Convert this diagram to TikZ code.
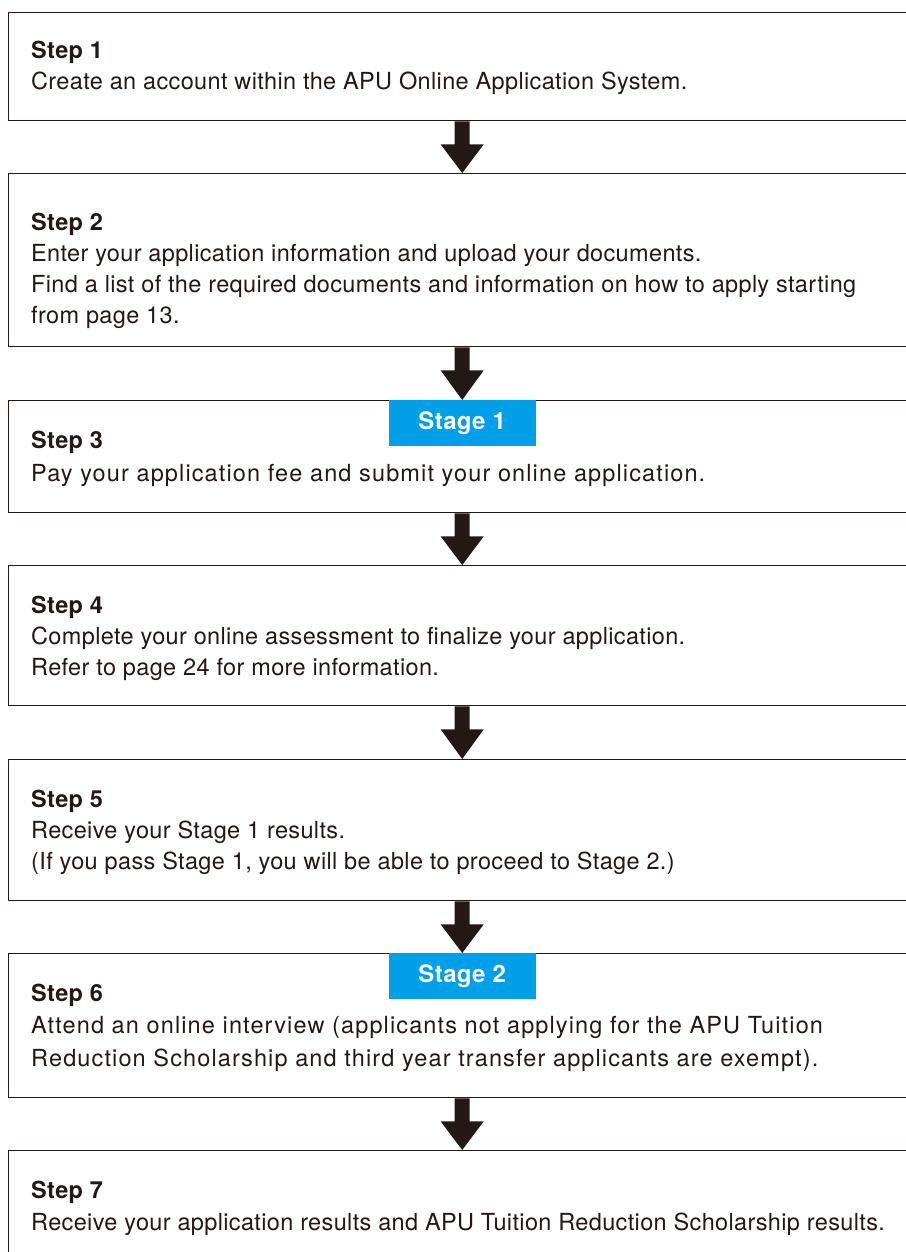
\documentclass[tikz,border=0pt]{standalone}
\usepackage{fontspec}
\setmainfont{TeX Gyre Heros}[LetterSpace=1.5]
\newfontfamily\widefont{TeX Gyre Heros}[LetterSpace=4.8]
\usetikzlibrary{calc}
\definecolor{ink}{HTML}{231815}
\definecolor{stageblue}{HTML}{00A0E9}
\tikzset{
  stepbox/.style={draw=ink, line width=1.4pt, rectangle, minimum width=907pt, anchor=north west, inner sep=0pt},
  steptext/.style={anchor=base west, inner sep=0pt, text=ink, font=\fontsize{23.5pt}{31pt}\selectfont},
  stagelabel/.style={fill=stageblue, text=white, anchor=north, minimum width=147pt, minimum height=46pt, inner sep=0pt, font=\fontsize{24pt}{26pt}\selectfont\bfseries},
  arrowfill/.style={fill=ink}
}
\newcommand{\flowarrow}[2]{%
  \fill[arrowfill] ($(#1.south)+(-7.5pt,0)$) -- ($(#1.south)+(7.5pt,0)$) -- ($(#1.south)+(7.5pt,-23pt)$) -- ($(#1.south)+(21.5pt,-23pt)$) -- (#2.north) -- ($(#1.south)+(-21.5pt,-23pt)$) -- ($(#1.south)+(-7.5pt,-23pt)$) -- cycle;}
\begin{document}
\begin{tikzpicture}[x=1pt,y=1pt]
\useasboundingbox (0,0) rectangle (905,-1252);
% boxes
\node[stepbox, minimum height=108pt] (b1) at (8,-12) {};
\node[stepbox, minimum height=173pt] (b2) at (8,-173) {};
\node[stepbox, minimum height=112pt] (b3) at (8,-400) {};
\node[stepbox, minimum height=140pt] (b4) at (8,-565) {};
\node[stepbox, minimum height=141pt] (b5) at (8,-759) {};
\node[stepbox, minimum height=144pt] (b6) at (8,-953) {};
\node[stepbox, minimum height=140pt] (b7) at (8,-1150) {};
% arrows
\flowarrow{b1}{b2}
\flowarrow{b2}{b3}
\flowarrow{b3}{b4}
\flowarrow{b4}{b5}
\flowarrow{b5}{b6}
\flowarrow{b6}{b7}
% stage labels
\node[stagelabel] (s1) at (b3.north) {Stage 1};
\node[stagelabel] (s2) at (b6.north) {Stage 2};
% texts
\node[steptext] (t1a) at (31,-59) {\bfseries Step 1};
\node[steptext] (t1b) at (31,-90) {Create an account within the APU Online Application System.};
\node[steptext] (t2a) at (31,-230) {\bfseries Step 2};
\node[steptext] (t2b) at (31,-261) {Enter your application information and upload your documents.};
\node[steptext] (t2c) at (31,-292) {Find a list of the required documents and information on how to apply starting};
\node[steptext] (t2d) at (31,-323) {from page 13.};
\node[steptext] (t3a) at (31,-448) {\bfseries Step 3};
\node[steptext] (t3b) at (31,-481) {\widefont Pay your application fee and submit your online application.};
\node[steptext] (t4a) at (31,-613) {\bfseries Step 4};
\node[steptext] (t4b) at (31,-644) {Complete your online assessment to finalize your application.};
\node[steptext] (t4c) at (31,-675) {Refer to page 24 for more information.};
\node[steptext] (t5a) at (31,-807) {\bfseries Step 5};
\node[steptext] (t5b) at (31,-838) {Receive your Stage 1 results.};
\node[steptext] (t5c) at (31,-869) {(If you pass Stage 1, you will be able to proceed to Stage 2.)};
\node[steptext] (t6a) at (31,-1001) {\bfseries Step 6};
\node[steptext] (t6b) at (31,-1033) {\widefont Attend an online interview (applicants not applying for the APU Tuition};
\node[steptext] (t6c) at (31,-1066) {\widefont Reduction Scholarship and third year transfer applicants are exempt).};
\node[steptext] (t7a) at (31,-1198) {\bfseries Step 7};
\node[steptext] (t7b) at (31,-1230) {Receive your application results and APU Tuition Reduction Scholarship results.};
\end{tikzpicture}
\end{document}
